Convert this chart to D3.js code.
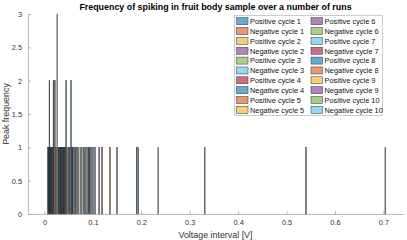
<!DOCTYPE html>
<html>
<head>
    <script src="https://cdn.jsdelivr.net/npm/d3@7" type="text/javascript"></script>
    <style>
        body { margin: 0; background: #fff; }
        text { font-family: "Liberation Sans", Arial, sans-serif; }
    </style>
</head>
<body>
    <div id="viz"></div>
    <script type="text/javascript">

    // legend / series names (P1, N1, P2, N2 ...)
    var seriesNames = [];
    for (var c = 1; c <= 10; c++) {
        seriesNames.push("Positive cycle " + c);
        seriesNames.push("Negative cycle " + c);
    }

    // histogram peaks: bin centre [V], count, series index
    var peakV = [0.007, 0.0085, 0.0103, 0.0115, 0.013, 0.0145, 0.016, 0.0175, 0.0186, 0.0214, 0.024,
                 0.0265, 0.029, 0.0305, 0.032, 0.0335, 0.035, 0.0365, 0.038, 0.0395, 0.041, 0.0425,
                 0.0447, 0.047, 0.050, 0.052, 0.055, 0.0565, 0.058, 0.061, 0.064, 0.067, 0.070,
                 0.074, 0.077, 0.081, 0.084, 0.088, 0.091, 0.093, 0.096, 0.100, 0.1045, 0.113,
                 0.119, 0.1355, 0.150, 0.1905, 0.1938, 0.235, 0.331, 0.540, 0.704];
    var peakCount = [1, 1, 2, 1, 1, 1, 1, 1, 2, 2, 1,
                     3, 1, 1, 1, 1, 1, 1, 1, 1, 1, 1,
                     2, 1, 1, 1, 2, 1, 1, 1, 1, 1, 1,
                     1, 1, 1, 1, 1, 1, 1, 1, 1, 1, 1,
                     1, 1, 1, 1, 1, 1, 1, 1, 1];
    var peakSeries = [0, 7, 3, 14, 7, 0, 1, 8, 0, 10, 4,
                      2, 14, 7, 7, 0, 0, 14, 8, 7, 1, 0,
                      5, 15, 11, 7, 12, 0, 3, 7, 0, 14, 9,
                      5, 12, 2, 6, 19, 0, 7, 3, 14, 5, 10,
                      1, 9, 5, 0, 7, 5, 12, 12, 0];

    var xTicks = [0, 0.1, 0.2, 0.3, 0.4, 0.5, 0.6, 0.7];
    var yTicks = [0, 0.5, 1, 1.5, 2, 2.5, 3];
    var binWidth = 0.0014;

    var colors = ["#0072BD", "#D95319", "#EDB120", "#7E2F8E", "#77AC30", "#4DBEEE", "#A2142F"];

    var W = 407, H = 240;
    var svg = d3.select("#viz").append("svg").attr("width", W).attr("height", H);

    var x = d3.scaleLinear().domain([-0.034, 0.7405]).range([28, 403]);
    var y = d3.scaleLinear().domain([0, 3]).range([214, 14]);

    // bars
    var peaks = peakV.map(function(v, i) {
        return {v: v, n: peakCount[i], s: peakSeries[i]};
    });
    peaks.sort(function(a, b) { return b.n - a.n; });

    svg.append("g").selectAll("rect")
        .data(peaks).enter().append("rect")
        .attr("x", function(d) { return x(d.v - binWidth / 2); })
        .attr("width", function(d) { return x(binWidth) - x(0); })
        .attr("y", function(d) { return y(d.n); })
        .attr("height", function(d) { return y(0) - y(d.n); })
        .style("fill", function(d) { return colors[d.s % 7]; })
        .style("fill-opacity", 0.6)
        .style("stroke", "#1a1a1a")
        .style("stroke-width", 0.5);

    // axes
    var axisColor = "#8c8c8c";
    var xAxis = d3.axisBottom(x).tickValues(xTicks).tickSizeInner(-3).tickSizeOuter(0)
        .tickPadding(6).tickFormat(d3.format("~g"));
    var gx = svg.append("g").attr("transform", "translate(0," + y(0) + ")").call(xAxis);
    var yAxis = d3.axisLeft(y).tickValues(yTicks).tickSizeInner(-3).tickSizeOuter(0)
        .tickPadding(6).tickFormat(d3.format("~g"));
    var gy = svg.append("g").attr("transform", "translate(" + x.range()[0] + ",0)").call(yAxis);

    [gx, gy].forEach(function(g) {
        g.select(".domain").attr("stroke", axisColor).attr("stroke-width", 0.6);
        g.selectAll(".tick line").attr("stroke", axisColor).attr("stroke-width", 0.6);
        g.selectAll(".tick text").attr("fill", "#333").style("font-size", "7.4px")
            .style("font-family", "'Liberation Sans', Arial, sans-serif");
    });

    // title and labels
    svg.append("text").attr("x", 215.5).attr("y", 9.5).attr("text-anchor", "middle")
        .style("font-size", "8.9px").style("font-weight", "bold").attr("fill", "#000")
        .text("Frequency of spiking in fruit body sample over a number of runs");
    svg.append("text").attr("x", 215.5).attr("y", 238).attr("text-anchor", "middle")
        .style("font-size", "8.9px").attr("fill", "#333")
        .text("Voltage interval [V]");
    svg.append("text").attr("transform", "translate(8.5,114) rotate(-90)").attr("text-anchor", "middle")
        .style("font-size", "8.9px").attr("fill", "#333")
        .text("Peak frequency");

    // legend
    var lg = svg.append("g").attr("transform", "translate(234.5,15.5)");
    lg.append("rect").attr("width", 148).attr("height", 100)
        .style("fill", "#fff").style("stroke", "#aaa").style("stroke-width", 0.6);
    var items = lg.selectAll("g.item").data(seriesNames).enter().append("g")
        .attr("transform", function(d, i) {
            var col = i < 10 ? 0 : 1, row = i % 10;
            return "translate(" + (col * 74.5 + 2) + "," + (row * 9.85 + 2.2) + ")";
        });
    items.append("rect").attr("width", 11.5).attr("height", 7)
        .style("fill", function(d, i) { return colors[i % 7]; })
        .style("fill-opacity", 0.6)
        .style("stroke", "#333").style("stroke-width", 0.5);
    items.append("text").attr("x", 13.5).attr("y", 6.3)
        .style("font-size", "7.4px").attr("fill", "#111")
        .text(function(d) { return d; });

    </script>
</body>
</html>
